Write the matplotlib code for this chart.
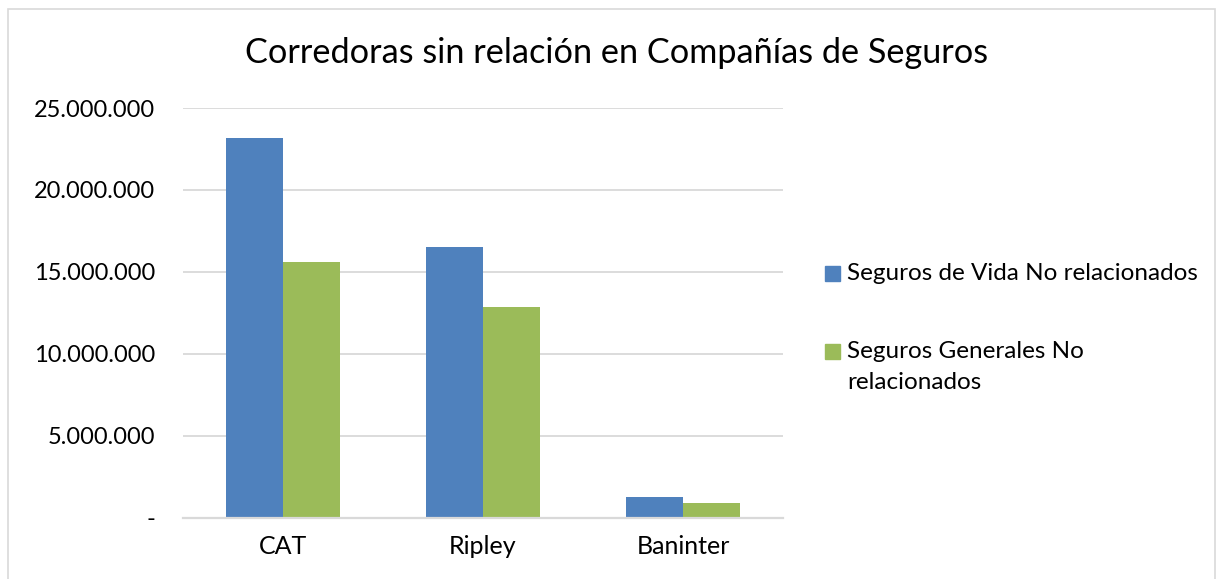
import matplotlib.pyplot as plt
import numpy as np
from matplotlib.patches import Rectangle

plt.rcParams['font.family'] = ['Lato', 'DejaVu Sans']

# Data
categorias = ['CAT', 'Ripley', 'Baninter']
vida = [23200000, 16500000, 1280000]
generales = [15600000, 12870000, 900000]
series = ['Seguros de Vida No relacionados', 'Seguros Generales No\nrelacionados']
colores = ['#4f81bd', '#9bbb59']

W, H = 1223, 579
fig = plt.figure(figsize=(W / 100, H / 100), dpi=100)
ax = fig.add_axes([183 / W, 1 - 518 / H, 600 / W, 410 / H])

x = np.arange(len(categorias))
w = 0.285
ax.bar(x - w / 2, vida, w, color=colores[0], zorder=3)
ax.bar(x + w / 2, generales, w, color=colores[1], zorder=3)

ax.set_xlim(-0.5, 2.5)
ax.set_ylim(0, 25000000)
ax.set_yticks(np.arange(0, 25000001, 5000000))

def fmt(v):
    if v == 0:
        return '-'
    return f'{int(v):,}'.replace(',', '.')

ax.set_yticklabels([fmt(v) for v in ax.get_yticks()], fontsize=17)
ax.set_xticks(x)
ax.set_xticklabels(categorias, fontsize=18)
ax.tick_params(axis='y', length=0, pad=20)
ax.tick_params(axis='x', length=0, pad=12)
ax.grid(axis='y', color='#d9d9d9', lw=1.3, zorder=0)
for s in ['top', 'right', 'left']:
    ax.spines[s].set_visible(False)
ax.spines['bottom'].set_color('#d9d9d9')
ax.spines['bottom'].set_linewidth(1.6)
ax.spines['bottom'].set_zorder(4)

fig.text(617 / W, 1 - 53 / H, 'Corredoras sin relación en Compañías de Seguros',
         ha='center', va='center', fontsize=24.7)

# legend drawn by hand so the square sits on the first text line
for i, (lab, col) in enumerate(zip(series, colores)):
    ytop = [266, 344][i]
    fig.add_artist(Rectangle((825 / W, 1 - (ytop + 15) / H), 15 / W, 15 / H,
                             transform=fig.transFigure, color=col))
    fig.text(847 / W, 1 - (ytop - 3) / H, lab, ha='left', va='top',
             fontsize=17.5, linespacing=1.6)

# chart frame
fig.add_artist(Rectangle((8 / W, -0.05), (1215 - 8) / W, 1.05 - 9 / H,
                         transform=fig.transFigure, fill=False,
                         edgecolor='#d9d9d9', lw=1.2))

fig.savefig('out.png', dpi=100)
